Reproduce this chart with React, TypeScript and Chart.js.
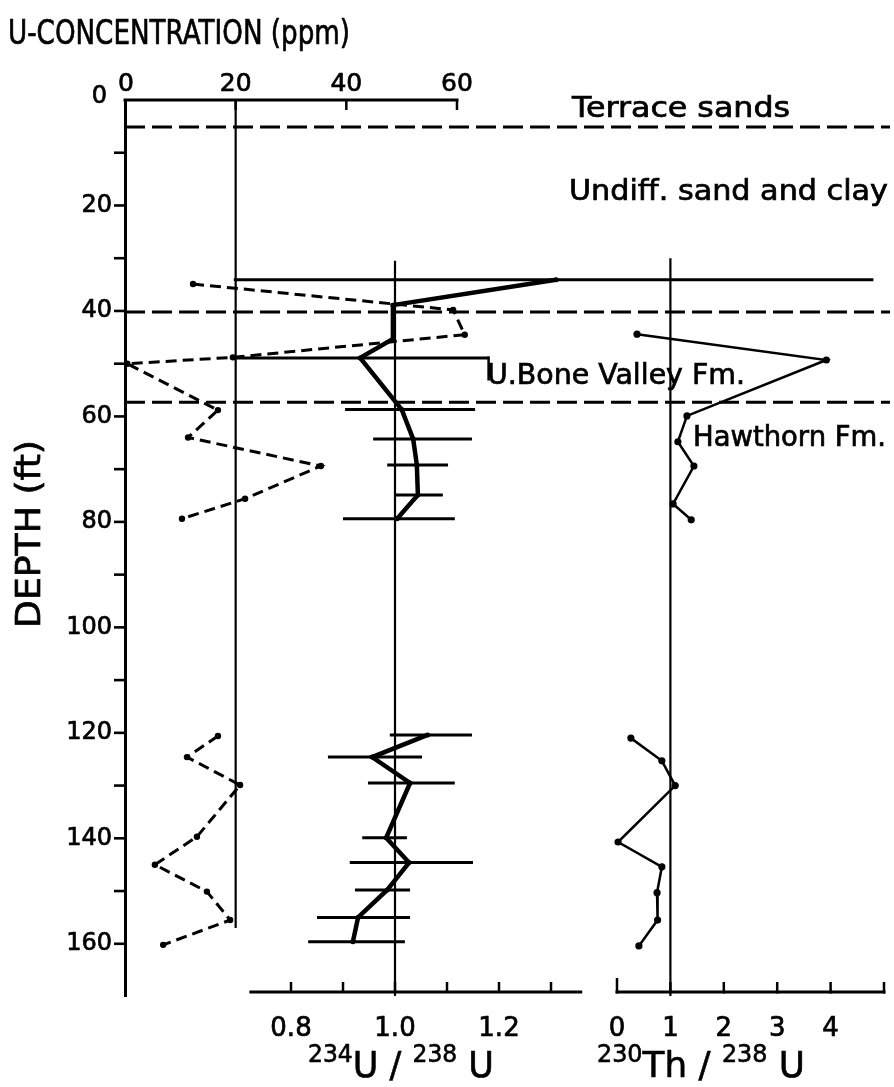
import React, { useEffect, useRef } from 'react';
import { Chart, registerables } from 'chart.js';

Chart.register(...registerables);

const FONT = '"DejaVu Sans", "Noto Sans", sans-serif';

// ---- U concentration (ppm) vs depth (ft) ----
const uDepthA = [34.9, 39.8, 44.5, 48.8, 50.0, 58.8, 64.0, 69.4, 75.6, 79.4];
const uPpmA = [12.3, 59.3, 61.4, 19.5, 0.4, 16.8, 11.4, 35.4, 21.7, 10.3];
const uDepthB = [120.6, 124.6, 129.9, 139.7, 145.0, 150.1, 155.5, 160.2];
const uPpmB = [16.8, 11.2, 20.8, 13.0, 5.4, 14.8, 19.0, 6.9];

// ---- 234U/238U activity ratio ----
const rDepthA = [34.1, 38.9, 45.3, 48.9, 58.7, 64.3, 69.2, 74.9, 79.4];
const rValA = [1.31, 0.996, 0.996, 0.933, 1.013, 1.035, 1.042, 1.044, 1.004];
const rLowA = [0.69, null, null, 0.69, 0.904, 0.958, 0.985, 1.0, 0.9];
const rHighA = [1.92, null, null, 1.18, 1.154, 1.148, 1.102, 1.092, 1.115];
const rDepthB = [120.4, 124.6, 129.5, 139.9, 144.6, 149.8, 155.0, 159.6];
const rValB = [1.063, 0.956, 1.029, 0.983, 1.027, 0.985, 0.929, 0.919];
const rLowB = [0.99, 0.871, 0.948, 0.937, 0.913, 0.923, 0.85, 0.833];
const rHighB = [1.148, 1.052, 1.115, 1.023, 1.15, 1.029, 1.029, 1.019];

// ---- 230Th/238U activity ratio ----
const tDepthA = [44.4, 49.3, 59.9, 64.8, 69.4, 76.6, 79.6];
const tValA = [0.375, 3.92, 1.31, 1.14, 1.44, 1.05, 1.39];
const tDepthB = [121.0, 125.3, 130.0, 140.7, 145.4, 150.3, 155.5, 160.4];
const tValB = [0.26, 0.84, 1.09, 0.02, 0.84, 0.75, 0.76, 0.41];

// ---- reference lines / boundaries ----
const uRefValue = 20;
const uRefDepth = [0, 157];
const rRefValue = 1.0;
const rRefDepth = [30.5, 169.9];
const tRefValue = 1;
const tRefDepth = [30, 169.9];
const boundaryDepths = [5.1, 40.2, 57.3];
const bracketRatio = 1.18;
const bracketDepths = [48.9, 53.2];

// ---- axes ----
const depthRange = [0, 169.9];
const depthTicks = [0, 10, 20, 30, 40, 50, 60, 70, 80, 90, 100, 110, 120, 130, 140, 150, 160];
const depthTickLabels = ['0', '', '20', '', '40', '', '60', '', '80', '', '100', '', '120', '', '140', '', '160'];
const uTicks = [0, 20, 40, 60];
const rTicks = [0.8, 0.9, 1.0, 1.1, 1.2, 1.3];
const rTickLabels = ['0.8', '', '1.0', '', '1.2', ''];
const rAxisRange = [0.72, 1.36];
const tTicks = [0, 1, 2, 3, 4, 5];
const tTickLabels = ['0', '1', '2', '3', '4', ''];
const tAxisRange = [0, 5];

const formationNames = ['Terrace sands', 'Undiff. sand and clay', 'U.Bone Valley Fm.', 'Hawthorn Fm.'];
const titleText = 'U-CONCENTRATION (ppm)';
const depthTitle = 'DEPTH (ft)';

const pts = (xs: number[], ys: number[]) => xs.map((x, i) => ({ x, y: ys[i] }));

function fitText(ctx: CanvasRenderingContext2D, text: string, left: number, base: number, width: number, size: number, stroke = 0.7) {
  ctx.font = `${size}px ${FONT}`;
  const m = ctx.measureText(text).width;
  ctx.save();
  ctx.translate(left, base);
  ctx.scale(width / m, 1);
  ctx.textAlign = 'left';
  ctx.textBaseline = 'alphabetic';
  ctx.fillText(text, 0, 0);
  if (stroke > 0) {
    ctx.lineWidth = stroke;
    ctx.strokeText(text, 0, 0);
  }
  ctx.restore();
}

function plainText(ctx: CanvasRenderingContext2D, text: string, x: number, y: number, size: number, align: CanvasTextAlign, baseline: CanvasTextBaseline) {
  ctx.font = `${size}px ${FONT}`;
  ctx.textAlign = align;
  ctx.textBaseline = baseline;
  ctx.fillText(text, x, y);
  ctx.lineWidth = 0.7;
  ctx.strokeText(text, x, y);
}

function supText(ctx: CanvasRenderingContext2D, parts: [string, boolean][], left: number, base: number, width: number, big: number, small: number, rise: number) {
  let total = 0;
  const ws = parts.map(([t, s]) => {
    ctx.font = `${s ? small : big}px ${FONT}`;
    const w = ctx.measureText(t).width;
    total += w;
    return w;
  });
  const k = width / total;
  ctx.save();
  ctx.translate(left, base);
  ctx.scale(k, 1);
  ctx.textBaseline = 'alphabetic';
  ctx.textAlign = 'left';
  ctx.lineWidth = 0.6;
  let x = 0;
  parts.forEach(([t, s], i) => {
    ctx.font = `${s ? small : big}px ${FONT}`;
    ctx.fillText(t, x, s ? -rise : 0);
    ctx.strokeText(t, x, s ? -rise : 0);
    x += ws[i];
  });
  ctx.restore();
}

function seg(ctx: CanvasRenderingContext2D, x1: number, y1: number, x2: number, y2: number, w: number) {
  ctx.lineWidth = w;
  ctx.beginPath();
  ctx.moveTo(x1, y1);
  ctx.lineTo(x2, y2);
  ctx.stroke();
}

const geoPlugin = {
  id: 'geo',
  beforeDatasetsDraw(chart: any) {
    const ctx: CanvasRenderingContext2D = chart.ctx;
    const { xU, xR, xT, y } = chart.scales;
    const area = chart.chartArea;
    ctx.save();
    ctx.strokeStyle = '#000';
    ctx.lineCap = 'butt';
    // reference verticals
    seg(ctx, xU.getPixelForValue(uRefValue), y.getPixelForValue(uRefDepth[0]), xU.getPixelForValue(uRefValue), y.getPixelForValue(uRefDepth[1]), 2.2);
    seg(ctx, xR.getPixelForValue(rRefValue), y.getPixelForValue(rRefDepth[0]), xR.getPixelForValue(rRefValue), y.getPixelForValue(rRefDepth[1]), 2.2);
    seg(ctx, xT.getPixelForValue(tRefValue), y.getPixelForValue(tRefDepth[0]), xT.getPixelForValue(tRefValue), y.getPixelForValue(tRefDepth[1]), 2.2);
    // formation boundaries (dashed)
    ctx.setLineDash([20, 7]);
    boundaryDepths.forEach((d) => {
      seg(ctx, xU.getPixelForValue(0), y.getPixelForValue(d), area.right, y.getPixelForValue(d), 3);
    });
    ctx.setLineDash([]);
    // error bars for 234U/238U
    const bars = (ds: number[], lo: (number | null)[], hi: (number | null)[]) => {
      ds.forEach((d, i) => {
        if (lo[i] == null || hi[i] == null) return;
        const py = y.getPixelForValue(d);
        seg(ctx, xR.getPixelForValue(lo[i] as number), py, xR.getPixelForValue(hi[i] as number), py, 3);
      });
    };
    bars(rDepthA, rLowA, rHighA);
    bars(rDepthB, rLowB, rHighB);
    // bracket at U.Bone Valley label
    seg(ctx, xR.getPixelForValue(bracketRatio), y.getPixelForValue(bracketDepths[0]) - 1.5, xR.getPixelForValue(bracketRatio), y.getPixelForValue(bracketDepths[1]), 2.5);
    ctx.restore();
  },
  afterDraw(chart: any) {
    const ctx: CanvasRenderingContext2D = chart.ctx;
    const { xU, xR, xT, y } = chart.scales;
    const area = chart.chartArea;
    ctx.save();
    ctx.strokeStyle = '#000';
    ctx.fillStyle = '#000';
    // left depth axis ticks + labels
    depthTicks.forEach((d, i) => {
      const py = y.getPixelForValue(d);
      if (d !== 0) seg(ctx, area.left - 11, py, area.left, py, 2.6);
      if (depthTickLabels[i]) plainText(ctx, depthTickLabels[i], area.left - 13 - (d === 0 ? 5 : 0), py - (d === 0 ? 3 : 0), 24, 'right', 'middle');
    });
    // top U axis
    const y0 = y.getPixelForValue(0);
    seg(ctx, xU.getPixelForValue(uTicks[0]) - 1.5, y0, xU.getPixelForValue(uTicks[uTicks.length - 1]) + 1.5, y0, 3);
    uTicks.forEach((v) => {
      const px = xU.getPixelForValue(v);
      if (v !== 0) seg(ctx, px, y0, px, y0 + 10, 2.5);
      plainText(ctx, String(v), px + (v === 0 ? 1 : 0), y0 - 9, 25, 'center', 'alphabetic');
    });
    // bottom ratio axes
    const yb = area.bottom - 4;
    seg(ctx, xR.getPixelForValue(rAxisRange[0]), yb, xR.getPixelForValue(rAxisRange[1]), yb, 3);
    rTicks.forEach((v, i) => {
      const px = xR.getPixelForValue(v);
      seg(ctx, px, yb, px, yb - 10, 2.5);
      if (rTickLabels[i]) plainText(ctx, rTickLabels[i], px, yb + 44, 26, 'center', 'alphabetic');
    });
    seg(ctx, xT.getPixelForValue(tAxisRange[0]) - 1.5, yb, xT.getPixelForValue(tAxisRange[1]) + 1.5, yb, 3);
    tTicks.forEach((v, i) => {
      const px = xT.getPixelForValue(v);
      seg(ctx, px, yb + 1.5, px, yb - (v === 0 ? 14 : 10), 2.5);
      if (tTickLabels[i]) plainText(ctx, tTickLabels[i], px, yb + 44, 26, 'center', 'alphabetic');
    });
    // axis titles
    supText(ctx, [['234', true], ['U', false], [' / ', false], ['238', true], [' U', false]], 308, 1077, 186, 36, 24, 15);
    supText(ctx, [['230', true], ['Th', false], [' / ', false], ['238', true], [' U', false]], 597, 1077, 208, 36, 24, 15);
    fitText(ctx, titleText, 8, 44, 342, 33);
    // depth title (rotated)
    ctx.save();
    ctx.translate(40, 628);
    ctx.rotate(-Math.PI / 2);
    fitText(ctx, depthTitle, 0, 0, 188, 34);
    ctx.restore();
    // formation labels
    fitText(ctx, formationNames[0], 572, 117, 218, 28);
    fitText(ctx, formationNames[1], 569, 200, 319, 28);
    fitText(ctx, formationNames[2], 487, 384, 258, 28);
    fitText(ctx, formationNames[3], 693, 446, 193, 28);
    ctx.restore();
  },
};

export default function App() {
  const ref = useRef<HTMLCanvasElement | null>(null);
  useEffect(() => {
    if (!ref.current) return;
    const lineDs = (data: any[], xAxisID: string, extra: any) => ({
      type: 'scatter',
      data,
      xAxisID,
      yAxisID: 'y',
      showLine: true,
      borderColor: '#000',
      backgroundColor: '#000',
      pointBackgroundColor: '#000',
      pointBorderWidth: 0,
      ...extra,
    });
    const uStyle = { borderWidth: 3, borderDash: [11, 6], pointRadius: 3.2 };
    const rStyle = { borderWidth: 4.5, pointRadius: 2.5 };
    const tStyle = { borderWidth: 2.5, pointRadius: 3.6 };
    const chart = new Chart(ref.current, {
      type: 'scatter',
      data: {
        datasets: [
          lineDs(pts(uPpmA, uDepthA), 'xU', uStyle),
          lineDs(pts(uPpmB, uDepthB), 'xU', uStyle),
          lineDs(pts(rValA, rDepthA), 'xR', rStyle),
          lineDs(pts(rValB, rDepthB), 'xR', rStyle),
          lineDs(pts(tValA, tDepthA), 'xT', tStyle),
          lineDs(pts(tValB, tDepthB), 'xT', tStyle),
        ] as any,
      },
      options: {
        animation: false,
        responsive: false,
        maintainAspectRatio: false,
        layout: { padding: { left: 0, top: 100, right: 4, bottom: 91 } },
        plugins: { legend: { display: false }, tooltip: { enabled: false } },
        scales: {
          xU: { type: 'linear', display: false, bounds: 'data', min: 0, max: 138.26 },
          xR: { type: 'linear', display: false, bounds: 'data', min: 0.48077, max: 1.95192 },
          xT: { type: 'linear', display: false, bounds: 'data', min: -9.2135, max: 5.1124 },
          y: {
            type: 'linear',
            position: 'left',
            reverse: true,
            bounds: 'data',
            min: depthRange[0],
            max: depthRange[1],
            afterFit: (s: any) => { s.width = 125; },
            border: { display: true, width: 3, color: '#000' },
            grid: { display: false, drawOnChartArea: false, drawTicks: false },
            ticks: { display: false },
          },
        },
      } as any,
      plugins: [geoPlugin],
    });
    return () => chart.destroy();
  }, []);
  return (
    <div style={{ position: 'fixed', left: 0, top: 0, width: 894, height: 1087, background: '#fff' }}>
      <canvas ref={ref} width={894} height={1087} style={{ width: 894, height: 1087, display: 'block' }} />
    </div>
  );
}
